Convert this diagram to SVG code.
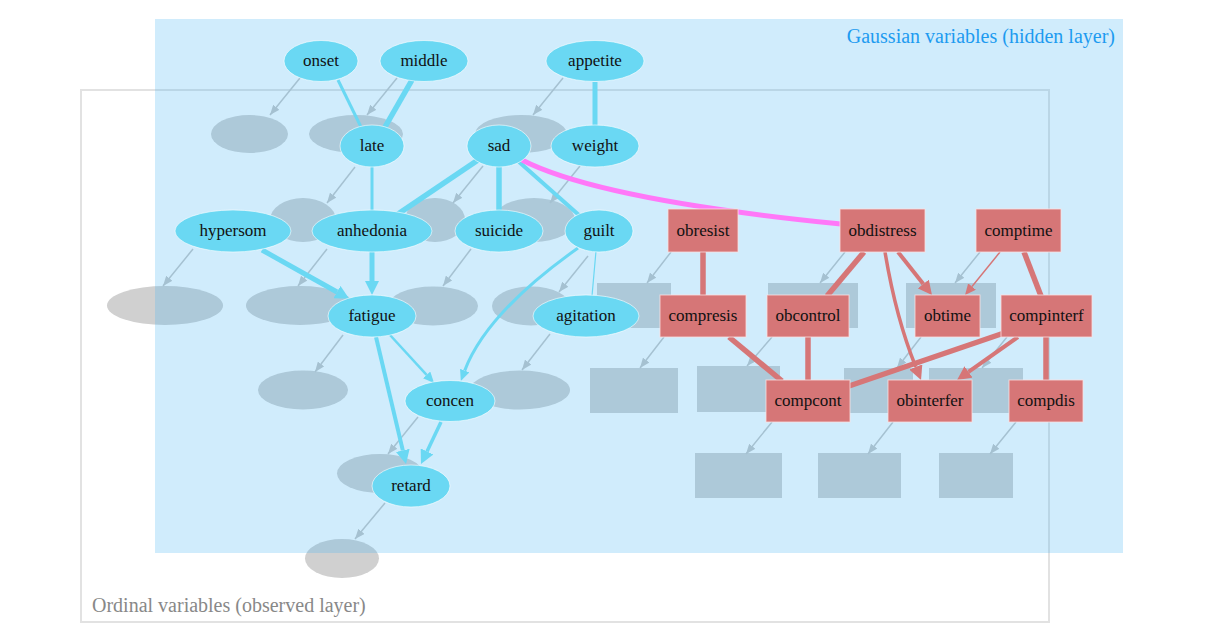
<svg xmlns="http://www.w3.org/2000/svg" width="1209" height="639" viewBox="0 0 1209 639">
<style>
text{font-family:"Liberation Serif","Times New Roman",serif}
.lbl{font-size:17px;fill:#111;text-anchor:middle}
.obs{fill:#d0d0d0}
.garr{stroke:#c6c6c6;stroke-width:1.5;fill:none;marker-end:url(#mg)}
.hn{fill:#6ad8f3;stroke:#fff;stroke-opacity:.6;stroke-width:1}
.rn{fill:#d67677;stroke:#fbe0e0;stroke-opacity:.8;stroke-width:1}
.ce{stroke:#6ad8f3;fill:none}
.re{stroke:#d67677;fill:none}
</style>
<defs>
<marker id="mg" markerUnits="userSpaceOnUse" markerWidth="10" markerHeight="8" refX="10" refY="4" orient="auto"><path d="M0,0 L10,4 L0,8 z" fill="#c6c6c6"/></marker>
<marker id="mc" markerUnits="userSpaceOnUse" markerWidth="14" markerHeight="14" refX="0" refY="7" orient="auto"><path d="M0,0 L14,7 L0,14 z" fill="#6ad8f3"/></marker>
<marker id="mcs" markerUnits="userSpaceOnUse" markerWidth="12" markerHeight="10" refX="0" refY="5" orient="auto"><path d="M0,0 L11,5 L0,10 z" fill="#6ad8f3"/></marker>
<marker id="mr" markerUnits="userSpaceOnUse" markerWidth="14" markerHeight="14" refX="0" refY="7" orient="auto"><path d="M0,0 L14,7 L0,14 z" fill="#d67677"/></marker>
<marker id="mrs" markerUnits="userSpaceOnUse" markerWidth="12" markerHeight="10" refX="0" refY="5" orient="auto"><path d="M0,0 L11,5 L0,10 z" fill="#d67677"/></marker>
</defs>
<rect width="1209" height="639" fill="#fff"/>

<!-- Observed (ordinal) layer -->
<g id="observed-layer">
<rect x="81" y="90" width="968" height="532" fill="#fff" stroke="#e2e2e2" stroke-width="2"/>
<text x="92" y="612" font-size="20" fill="#888">Ordinal variables (observed layer)</text>
<g id="o-onset"><ellipse class="obs" cx="249.5" cy="134" rx="38.5" ry="19"/></g>
<g id="o-middle"><ellipse class="obs" cx="356" cy="134" rx="47" ry="19"/></g>
<g id="o-appetite"><ellipse class="obs" cx="521" cy="134" rx="46" ry="19"/></g>
<g id="o-late"><ellipse class="obs" cx="303" cy="220" rx="33" ry="22"/></g>
<g id="o-sad"><ellipse class="obs" cx="435" cy="220" rx="30" ry="22"/></g>
<g id="o-weight"><ellipse class="obs" cx="534" cy="220" rx="41" ry="22"/></g>
<g id="o-hypersom"><ellipse class="obs" cx="165" cy="305.5" rx="58" ry="19.5"/></g>
<g id="o-anhedonia"><ellipse class="obs" cx="300" cy="305.5" rx="54" ry="19.5"/></g>
<g id="o-suicide"><ellipse class="obs" cx="433" cy="306" rx="45" ry="19.5"/></g>
<g id="o-guilt"><ellipse class="obs" cx="531" cy="306" rx="39" ry="19.5"/></g>
<g id="o-fatigue"><ellipse class="obs" cx="303" cy="390" rx="45" ry="19.5"/></g>
<g id="o-agitation"><ellipse class="obs" cx="520" cy="390" rx="50" ry="19.5"/></g>
<g id="o-concen"><ellipse class="obs" cx="380" cy="473.5" rx="43" ry="19.5"/></g>
<g id="o-retard"><ellipse class="obs" cx="342" cy="558.5" rx="37" ry="19.5"/></g>
<g id="o-obresist"><rect class="obs" x="597" y="283" width="74" height="45"/></g>
<g id="o-obdistress"><rect class="obs" x="768" y="283" width="90" height="45"/></g>
<g id="o-comptime"><rect class="obs" x="906" y="283" width="90" height="45"/></g>
<g id="o-compresis"><rect class="obs" x="590" y="368" width="88" height="45"/></g>
<g id="o-obcontrol"><rect class="obs" x="697" y="366" width="83" height="46"/></g>
<g id="o-obtime"><rect class="obs" x="844" y="368" width="69" height="45"/></g>
<g id="o-compinterf"><rect class="obs" x="929" y="368" width="94" height="45"/></g>
<g id="o-compcont"><rect class="obs" x="695" y="453" width="87" height="45"/></g>
<g id="o-obinterfer"><rect class="obs" x="818" y="453" width="83" height="45"/></g>
<g id="o-compdis"><rect class="obs" x="939" y="453" width="74" height="45"/></g>
</g>

<g id="observation-connectors">
<line class="garr" x1="300" y1="78" x2="270" y2="115"/>
<line class="garr" x1="397" y1="78" x2="367" y2="115"/>
<line class="garr" x1="563" y1="78" x2="533" y2="115"/>
<line class="garr" x1="355" y1="167" x2="327" y2="203"/>
<line class="garr" x1="483" y1="166" x2="453" y2="203"/>
<line class="garr" x1="580" y1="166" x2="550" y2="203"/>
<line class="garr" x1="193" y1="249" x2="163" y2="286"/>
<line class="garr" x1="327" y1="249" x2="298" y2="286"/>
<line class="garr" x1="471" y1="249" x2="443" y2="286"/>
<line class="garr" x1="588" y1="256" x2="559" y2="292"/>
<line class="garr" x1="343" y1="335" x2="315" y2="372"/>
<line class="garr" x1="550" y1="334" x2="522" y2="370"/>
<line class="garr" x1="418" y1="417" x2="388" y2="454"/>
<line class="garr" x1="385" y1="503" x2="355" y2="539"/>
<line class="garr" x1="671" y1="252" x2="647" y2="283"/>
<line class="garr" x1="845" y1="252" x2="820" y2="283"/>
<line class="garr" x1="980" y1="252" x2="955" y2="283"/>
<line class="garr" x1="664" y1="337" x2="640" y2="368"/>
<line class="garr" x1="772" y1="337" x2="747" y2="366"/>
<line class="garr" x1="921" y1="337" x2="897" y2="368"/>
<line class="garr" x1="1007" y1="337" x2="982" y2="368"/>
<line class="garr" x1="772" y1="422" x2="746" y2="454"/>
<line class="garr" x1="893" y1="422" x2="868" y2="454"/>
<line class="garr" x1="1016" y1="422" x2="990" y2="454"/>
</g>

<!-- Hidden (Gaussian) layer -->
<g id="hidden-layer">
<rect x="155" y="19" width="968" height="534" fill="#43b3f3" fill-opacity="0.25"/>
<text x="1115" y="43" font-size="20" fill="#1d9bf0" text-anchor="end">Gaussian variables (hidden layer)</text>
</g>

<g id="connectors">
<line class="ce" x1="338" y1="80" x2="361" y2="127" stroke-width="3"/>
<line class="ce" x1="412" y1="80" x2="385" y2="127" stroke-width="5.5"/>
<line class="ce" x1="595" y1="82" x2="595" y2="126" stroke-width="5"/>
<line class="ce" x1="372" y1="166" x2="372" y2="211" stroke-width="3"/>
<line class="ce" x1="478" y1="160" x2="398" y2="214" stroke-width="5.5"/>
<line class="ce" x1="499" y1="166" x2="499" y2="211" stroke-width="5.5"/>
<line class="ce" x1="518" y1="161" x2="580" y2="216" stroke-width="4"/>
<line class="ce" x1="596" y1="251" x2="592" y2="296" stroke-width="1.2"/>
<line class="ce" x1="262" y1="250" x2="337" y2="292" stroke-width="5" marker-end="url(#mc)"/>
<line class="ce" x1="372" y1="252" x2="372" y2="281" stroke-width="5" marker-end="url(#mc)"/>
<line class="ce" x1="390" y1="335" x2="426.6" y2="374.9" stroke-width="2.5" marker-end="url(#mcs)"/>
<line class="ce" x1="376" y1="337" x2="402.8" y2="450.4" stroke-width="4" marker-end="url(#mc)"/>
<line class="ce" x1="441" y1="422" x2="427" y2="451.4" stroke-width="3.5" marker-end="url(#mc)"/>
<path class="ce" d="M578,248 C530,282 482,325 464.7,370.6" stroke-width="3" marker-end="url(#mcs)"/>
<path d="M522,160 Q600,200 841,224" fill="none" stroke="#ff78f8" stroke-width="5"/>
<line class="re" x1="703" y1="252" x2="703" y2="295" stroke-width="5.5"/>
<line class="re" x1="864" y1="252" x2="827" y2="296" stroke-width="5.5"/>
<line class="re" x1="898" y1="252" x2="923.3" y2="284" stroke-width="4" marker-end="url(#mr)"/>
<path class="re" d="M885,252 Q896,318 915.8,367" stroke-width="3.5" marker-end="url(#mr)"/>
<line class="re" x1="1000" y1="252" x2="972" y2="286.5" stroke-width="1.5" marker-end="url(#mrs)"/>
<line class="re" x1="1024" y1="252" x2="1041" y2="296" stroke-width="5.5"/>
<line class="re" x1="729" y1="337" x2="782" y2="381" stroke-width="5.5"/>
<line class="re" x1="808" y1="337" x2="808" y2="381" stroke-width="5.5"/>
<line class="re" x1="1004" y1="333" x2="849" y2="386" stroke-width="5.5"/>
<line class="re" x1="1018" y1="337" x2="968.5" y2="371.9" stroke-width="4" marker-end="url(#mr)"/>
<line class="re" x1="1046" y1="337" x2="1046" y2="381" stroke-width="5.5"/>
</g>

<g id="n-onset"><ellipse class="hn" cx="321" cy="61" rx="37" ry="20.5"/><text class="lbl" x="321" y="66">onset</text></g>
<g id="n-middle"><ellipse class="hn" cx="424" cy="61" rx="44" ry="20.5"/><text class="lbl" x="424" y="66">middle</text></g>
<g id="n-appetite"><ellipse class="hn" cx="595" cy="61" rx="49" ry="20.5"/><text class="lbl" x="595" y="66">appetite</text></g>
<g id="n-late"><ellipse class="hn" cx="372" cy="146" rx="32" ry="21"/><text class="lbl" x="372" y="151">late</text></g>
<g id="n-sad"><ellipse class="hn" cx="499" cy="146" rx="32" ry="21"/><text class="lbl" x="499" y="151">sad</text></g>
<g id="n-weight"><ellipse class="hn" cx="595" cy="146" rx="44" ry="21"/><text class="lbl" x="595" y="151">weight</text></g>
<g id="n-hypersom"><ellipse class="hn" cx="233" cy="231" rx="58" ry="21"/><text class="lbl" x="233" y="236">hypersom</text></g>
<g id="n-anhedonia"><ellipse class="hn" cx="372" cy="231" rx="60" ry="21"/><text class="lbl" x="372" y="236">anhedonia</text></g>
<g id="n-suicide"><ellipse class="hn" cx="499" cy="231" rx="44" ry="21"/><text class="lbl" x="499" y="236">suicide</text></g>
<g id="n-guilt"><ellipse class="hn" cx="599" cy="231" rx="34" ry="21"/><text class="lbl" x="599" y="236">guilt</text></g>
<g id="n-fatigue"><ellipse class="hn" cx="372" cy="316" rx="44" ry="21"/><text class="lbl" x="372" y="321">fatigue</text></g>
<g id="n-agitation"><ellipse class="hn" cx="586" cy="316" rx="53" ry="21"/><text class="lbl" x="586" y="321">agitation</text></g>
<g id="n-concen"><ellipse class="hn" cx="450" cy="401" rx="45" ry="20.5"/><text class="lbl" x="450" y="406">concen</text></g>
<g id="n-retard"><ellipse class="hn" cx="411" cy="486" rx="39" ry="21"/><text class="lbl" x="411" y="491">retard</text></g>

<g id="n-obresist"><rect class="rn" x="668" y="209" width="70" height="43"/><text class="lbl" x="703" y="236">obresist</text></g>
<g id="n-obdistress"><rect class="rn" x="840" y="209" width="85" height="43"/><text class="lbl" x="882.5" y="236">obdistress</text></g>
<g id="n-comptime"><rect class="rn" x="976" y="209" width="85" height="43"/><text class="lbl" x="1018.5" y="236">comptime</text></g>
<g id="n-compresis"><rect class="rn" x="660" y="295" width="86" height="42"/><text class="lbl" x="703" y="321">compresis</text></g>
<g id="n-obcontrol"><rect class="rn" x="767" y="295" width="82" height="42"/><text class="lbl" x="808" y="321">obcontrol</text></g>
<g id="n-obtime"><rect class="rn" x="915" y="295" width="65" height="42"/><text class="lbl" x="947.5" y="321">obtime</text></g>
<g id="n-compinterf"><rect class="rn" x="1001" y="295" width="91" height="42"/><text class="lbl" x="1046.5" y="321">compinterf</text></g>
<g id="n-compcont"><rect class="rn" x="766" y="380" width="84" height="42"/><text class="lbl" x="808" y="406">compcont</text></g>
<g id="n-obinterfer"><rect class="rn" x="888" y="380" width="84" height="42"/><text class="lbl" x="930" y="406">obinterfer</text></g>
<g id="n-compdis"><rect class="rn" x="1009" y="380" width="74" height="42"/><text class="lbl" x="1046" y="406">compdis</text></g>
</svg>
